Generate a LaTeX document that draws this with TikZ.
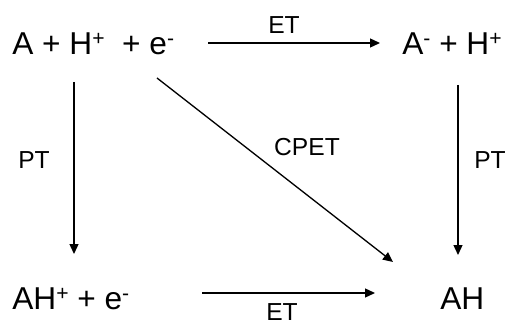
\documentclass[tikz,border=0pt]{standalone}
\usepackage{fontspec}
\setmainfont{Liberation Sans}
\usetikzlibrary{arrows.meta, calc}

% small raised charge sign
\newcommand{\chg}[1]{\raisebox{5.5pt}{\fontsize{12}{12}\selectfont #1}}

\begin{document}
\begin{tikzpicture}[
    x=0.02cm, y=-0.02cm,
    >={Triangle[length=0.2cm, width=0.18cm]},
    species/.style={inner sep=0pt, anchor=base west, font=\fontsize{18}{22}\selectfont},
    steplabel/.style={inner sep=0pt, font=\fontsize{14}{17}\selectfont},
    rxnarrow/.style={->, line width=0.75pt, black}
]
\useasboundingbox (0,0) rectangle (511,324);

% Species at the four corners
\node[species] (react) at (12,55) {A + H\chg{+}\ \ + e\chg{-}};
\node[species] (anion) at (402,55) {A\chg{-} + H\chg{+}};
\node[species] (cation) at (12,310) {AH\chg{+} + e\chg{-}};
\node[species] (prod) at (440,310) {AH};

% Electron transfer
\draw[rxnarrow] ($(react.base west)+(196,-12)$) -- ($(anion.base west)+(-22,-12)$);
\draw[rxnarrow] ($(cation.base west)+(190,-17)$) -- ($(prod.base west)+(-65,-17)$);

% Proton transfer
\draw[rxnarrow] ($(react.base west)+(62,27)$) -- ($(cation.base west)+(62,-56)$);
\draw[rxnarrow] ($(anion.base west)+(56,30)$) -- ($(prod.base west)+(18,-55)$);

% Concerted path
\draw[rxnarrow] ($(react.base west)+(145,23)$) -- ($(prod.base west)+(-47,-48)$);

% Labels
\node[steplabel] (et_top) at (284,25) {ET};
\node[steplabel] (et_bot) at (282,312) {ET};
\node[steplabel] (pt_left) at (34,160) {PT};
\node[steplabel] (pt_right) at (490,160) {PT};
\node[steplabel] (cpet) at (307,147) {CPET};
\end{tikzpicture}
\end{document}
